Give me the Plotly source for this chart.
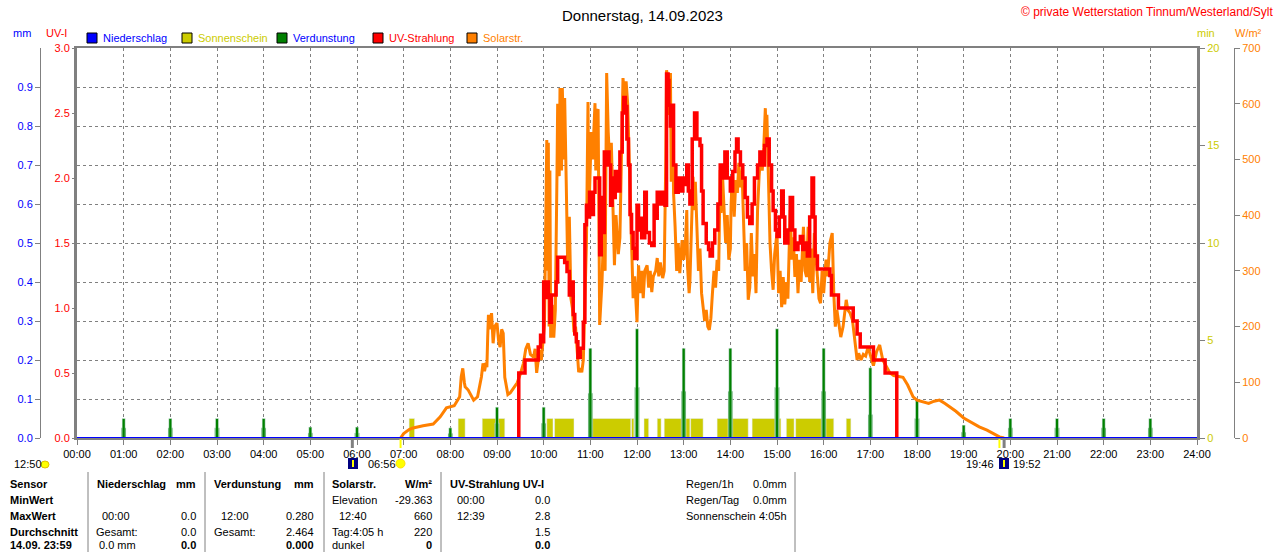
import plotly.graph_objects as go

W, H = 1280, 552

# Solarstrahlung W/m2 (orange)
solar_time = ["06:56", "07:00", "07:07", "07:12", "07:25", "07:38", "07:47", "07:55", "08:05", "08:10",
              "08:12", "08:14", "08:16", "08:18", "08:19", "08:23", "08:27", "08:30", "08:35", "08:40",
              "08:42", "08:44", "08:46", "08:47", "08:48", "08:49", "08:50", "08:51", "08:53", "08:54",
              "08:55", "08:57", "09:00", "09:02", "09:04", "09:06", "09:08", "09:10", "09:12", "09:14",
              "09:17", "09:22", "09:26", "09:30", "09:34", "09:37", "09:40", "09:43", "09:47", "09:49",
              "09:51", "09:53", "09:55", "09:57", "09:59", "10:01", "10:03", "10:04", "10:05", "10:06",
              "10:07", "10:08", "10:09", "10:11", "10:13", "10:15", "10:17", "10:18", "10:20", "10:21",
              "10:23", "10:24", "10:26", "10:27", "10:29", "10:31", "10:33", "10:35", "10:37", "10:39",
              "10:41", "10:43", "10:45", "10:47", "10:49", "10:51", "10:53", "10:55", "10:57", "10:58",
              "11:00", "11:01", "11:03", "11:04", "11:06", "11:07", "11:08", "11:10", "11:12", "11:15",
              "11:17", "11:19", "11:21", "11:23", "11:25", "11:27", "11:29", "11:31", "11:33", "11:36",
              "11:38", "11:40", "11:42", "11:44", "11:46", "11:48", "11:51", "11:53", "11:55", "11:57",
              "12:00", "12:02", "12:04", "12:06", "12:08", "12:10", "12:13", "12:15", "12:17", "12:19",
              "12:21", "12:24", "12:26", "12:28", "12:30", "12:33", "12:35", "12:37", "12:38", "12:40",
              "12:41", "12:43", "12:44", "12:46", "12:47", "12:49", "12:51", "12:53", "12:55", "12:58",
              "13:00", "13:02", "13:04", "13:05", "13:07", "13:08", "13:10", "13:12", "13:14", "13:15",
              "13:17", "13:19", "13:21", "13:23", "13:25", "13:27", "13:29", "13:31", "13:33", "13:35",
              "13:37", "13:39", "13:41", "13:43", "13:45", "13:47", "13:48", "13:50", "13:52", "13:54",
              "13:56", "13:58", "14:00", "14:01", "14:03", "14:05", "14:07", "14:09", "14:11", "14:13",
              "14:15", "14:17", "14:19", "14:21", "14:23", "14:25", "14:27", "14:29", "14:31", "14:33",
              "14:35", "14:37", "14:39", "14:41", "14:43", "14:45", "14:46", "14:47", "14:49", "14:51",
              "14:53", "14:55", "14:57", "15:00", "15:02", "15:04", "15:06", "15:08", "15:10", "15:12",
              "15:14", "15:17", "15:19", "15:21", "15:23", "15:25", "15:27", "15:29", "15:31", "15:34",
              "15:36", "15:38", "15:40", "15:42", "15:44", "15:46", "15:48", "15:50", "15:52", "15:54",
              "15:56", "15:58", "16:00", "16:03", "16:05", "16:08", "16:11", "16:13", "16:15", "16:17",
              "16:19", "16:22", "16:25", "16:27", "16:29", "16:31", "16:34", "16:37", "16:40", "16:43",
              "16:45", "16:48", "16:51", "16:54", "16:57", "17:00", "17:04", "17:08", "17:12", "17:16",
              "17:20", "17:25", "17:30", "17:36", "17:42", "17:48", "17:55", "18:00", "18:07", "18:15",
              "18:22", "18:29", "18:36", "18:42", "18:50", "19:00", "19:10", "19:20", "19:30", "19:40",
              "19:46", "19:52"]
solar_wm2 = [0, 8, 15, 18, 22, 25, 38, 54, 58, 70,
             74, 110, 125, 100, 92, 86, 75, 68, 74, 110,
             134, 120, 135, 127, 180, 221, 195, 210, 224, 175,
             170, 200, 206, 175, 163, 195, 188, 109, 95, 78,
             81, 90, 99, 115, 134, 160, 170, 150, 145, 160,
             117, 140, 158, 140, 176, 203, 420, 535, 300, 530,
             200, 480, 180, 239, 180, 230, 460, 600, 470, 628,
             480, 628, 500, 610, 460, 300, 397, 251, 233, 190,
             200, 150, 118, 125, 118, 140, 251, 350, 603, 400,
             490, 549, 500, 549, 601, 480, 585, 590, 203, 280,
             370, 300, 655, 549, 490, 530, 430, 310, 400, 330,
             359, 500, 646, 610, 640, 600, 430, 310, 251, 290,
             208, 310, 260, 300, 251, 300, 310, 270, 300, 262,
             290, 300, 323, 290, 315, 287, 300, 500, 660, 640,
             580, 655, 460, 558, 440, 379, 300, 350, 296, 355,
             320, 340, 409, 307, 260, 280, 380, 469, 409, 460,
             379, 300, 340, 260, 235, 210, 230, 200, 194, 215,
             260, 300, 270, 320, 300, 481, 404, 470, 409, 350,
             400, 320, 340, 420, 481, 397, 463, 440, 494, 450,
             480, 379, 300, 350, 248, 270, 368, 290, 330, 260,
             409, 470, 510, 480, 522, 592, 540, 580, 440, 350,
             300, 266, 330, 368, 260, 300, 235, 289, 240, 280,
             250, 409, 320, 360, 289, 330, 260, 320, 280, 379,
             300, 289, 379, 280, 340, 260, 368, 320, 289, 250,
             242, 300, 260, 320, 290, 350, 368, 260, 200, 230,
             212, 181, 200, 220, 248, 230, 224, 212, 170, 140,
             152, 140, 150, 147, 163, 150, 130, 155, 167, 140,
             130, 117, 112, 110, 109, 95, 74, 68, 65, 62,
             66, 68, 62, 56, 48, 36, 28, 20, 14, 6,
             2, 0]

# UV-Strahlung UV-I (red, step line)
uv_time = ["09:27", "09:28", "09:36", "09:53", "09:56", "09:58", "10:00", "10:02", "10:04", "10:06",
           "10:08", "10:10", "10:13", "10:16", "10:18", "10:27", "10:30", "10:33", "10:36", "10:38",
           "10:40", "10:42", "10:44", "10:47", "10:51", "10:53", "10:55", "10:57", "10:59", "11:02",
           "11:04", "11:06", "11:10", "11:12", "11:14", "11:16", "11:18", "11:20", "11:22", "11:24",
           "11:26", "11:28", "11:30", "11:32", "11:35", "11:38", "11:41", "11:43", "11:45", "11:47",
           "11:49", "11:51", "11:53", "11:55", "11:57", "12:00", "12:02", "12:04", "12:06", "12:10",
           "12:12", "12:16", "12:19", "12:22", "12:24", "12:26", "12:30", "12:33", "12:36", "12:38",
           "12:40", "12:41", "12:43", "12:45", "12:47", "12:50", "12:53", "12:55", "12:59", "13:02",
           "13:04", "13:06", "13:08", "13:11", "13:14", "13:17", "13:21", "13:23", "13:25", "13:29",
           "13:32", "13:34", "13:37", "13:40", "13:44", "13:47", "13:50", "13:53", "13:56", "14:00",
           "14:03", "14:06", "14:08", "14:10", "14:13", "14:16", "14:19", "14:22", "14:25", "14:28",
           "14:31", "14:35", "14:38", "14:41", "14:44", "14:47", "14:50", "14:53", "14:55", "14:58",
           "15:00", "15:03", "15:06", "15:08", "15:10", "15:14", "15:17", "15:20", "15:23", "15:27",
           "15:30", "15:33", "15:36", "15:39", "15:42", "15:45", "15:47", "15:49", "15:52", "16:08",
           "16:10", "16:14", "16:19", "16:38", "16:43", "16:47", "17:04", "17:19", "17:33", "17:34"]
uv_index = [0.0, 0.5, 0.6, 0.7, 0.79, 0.74, 1.2, 1.08, 1.2, 1.1,
            0.89, 1.1, 1.1, 1.2, 1.39, 1.35, 1.28, 1.1, 1.2, 0.95,
            0.8, 0.74, 0.62, 0.69, 0.89, 1.64, 1.79, 1.7, 1.89, 1.72,
            1.89, 2.0, 2.0, 1.41, 1.85, 1.58, 2.2, 2.1, 2.2, 2.1,
            1.79, 2.0, 1.85, 2.05, 1.9, 2.2, 2.5, 2.62, 2.55, 2.3,
            2.1, 1.72, 1.58, 1.46, 1.38, 1.79, 1.6, 1.69, 1.54, 1.89,
            1.58, 1.5, 1.48, 1.79, 1.69, 1.89, 1.8, 1.89, 1.79, 2.8,
            2.75, 2.56, 2.4, 2.56, 2.1, 1.89, 2.0, 1.9, 2.0, 1.95,
            2.1, 1.9, 1.8, 2.3, 2.5, 2.3, 2.25, 1.9, 1.65, 1.5,
            1.45, 1.4, 1.5, 1.6, 1.8, 2.1, 2.0, 2.2, 2.0, 1.9,
            2.05, 2.2, 2.3, 2.2, 2.1, 2.0, 1.85, 1.7, 1.65, 1.8,
            2.0, 2.1, 2.2, 2.1, 2.25, 2.3, 2.1, 1.9, 1.75, 1.6,
            1.55, 1.7, 1.9, 1.7, 1.5, 1.6, 1.85, 1.6, 1.45, 1.5,
            1.55, 1.45, 1.5, 1.4, 1.7, 2.0, 1.7, 1.4, 1.3, 1.25,
            1.1, 1.1, 1.0, 0.9, 0.8, 0.7, 0.6, 0.5, 0.5, 0.0]

# Sonnenschein (min), sunny periods
sun_start = ["07:07", "08:10", "08:41", "10:04", "10:14", "10:58", "11:53", "12:09", "12:26", "12:35",
             "13:09", "13:43", "14:28", "15:12", "15:24", "16:29"]
sun_end = ["07:14", "08:19", "09:10", "10:12", "10:39", "11:52", "11:56", "12:15", "12:31", "13:08",
           "13:25", "14:23", "15:05", "15:22", "16:13", "16:35"]
sun_min = [1, 1, 1, 1, 1, 1, 1, 1, 1, 1, 1, 1, 1, 1, 1, 1]

# Verdunstung mm, hourly spikes
evap_time = ["01:00", "02:00", "03:00", "04:00", "05:00", "06:00", "07:00", "08:00", "09:00", "10:00",
             "11:00", "12:00", "13:00", "14:00", "15:00", "16:00", "17:00", "18:00", "19:00", "20:00",
             "21:00", "22:00", "23:00"]
evap_peak = [0.05, 0.05, 0.05, 0.05, 0.028, 0.028, 0.0, 0.026, 0.079, 0.079,
             0.23, 0.28, 0.23, 0.23, 0.28, 0.23, 0.18, 0.10, 0.033, 0.05,
             0.05, 0.05, 0.05]
evap_base = [0.026, 0.026, 0.026, 0.026, 0.013, 0.013, 0.0, 0.012, 0.038, 0.038,
             0.115, 0.13, 0.12, 0.12, 0.13, 0.12, 0.06, 0.05, 0.015, 0.026,
             0.026, 0.026, 0.026]

# Niederschlag mm
rain_time = ["00:00", "24:00"]
rain_mm = [0.0, 0.0]

hour_labels = ["00:00", "01:00", "02:00", "03:00", "04:00", "05:00", "06:00", "07:00", "08:00",
               "09:00", "10:00", "11:00", "12:00", "13:00", "14:00", "15:00", "16:00", "17:00",
               "18:00", "19:00", "20:00", "21:00", "22:00", "23:00", "24:00"]

# sunrise / sunset markers below the axis
mark_time = ["05:54", "06:56", "19:46", "19:52"]
mark_color = ["#808080", "#ffff00", "#ffff00", "#808080"]

BLUE = "#0000ff"
YEL = "#cccc00"
GREEN = "#008000"
RED = "#ff0000"
ORANGE = "#ff8000"
GRAY = "#808080"
FONT = "Liberation Sans"


def hrs(t):
    h, m = t.split(":")
    return int(h) + int(m) / 60.0


def px(x):
    return x / W


def py(y):
    return 1 - y / H


fig = go.Figure()

sx = [(hrs(a) + hrs(b)) / 2 for a, b in zip(sun_start, sun_end)]
sw = [hrs(b) - hrs(a) for a, b in zip(sun_start, sun_end)]
fig.add_trace(go.Bar(x=sx, y=sun_min, width=sw, marker_color=YEL, yaxis="y", name="Sonnenschein"))

ex = [hrs(t) for t in evap_time]
fig.add_trace(go.Bar(x=ex, y=evap_base, width=0.1, marker_color=GREEN, yaxis="y2", name="Verdunstung"))
fig.add_trace(go.Bar(x=ex, y=evap_peak, width=0.065, marker_color=GREEN, yaxis="y2", name="Verdunstung"))

fig.add_trace(go.Scatter(x=[hrs(t) for t in solar_time], y=solar_wm2, mode="lines",
                         line=dict(color=ORANGE, width=3), yaxis="y3", name="Solarstr."))
fig.add_trace(go.Scatter(x=[hrs(t) for t in uv_time], y=uv_index, mode="lines",
                         line=dict(color=RED, width=3.5, shape="hv"), yaxis="y4", name="UV-Strahlung"))
fig.add_trace(go.Scatter(x=[hrs(t) for t in rain_time], y=rain_mm, mode="lines", cliponaxis=False,
                         line=dict(color=BLUE, width=2), yaxis="y5", name="Niederschlag"))

ydom = [py(438), py(48)]
tf = dict(family=FONT, size=11)

fig.update_layout(
    width=W, height=H, margin=dict(l=0, r=0, t=0, b=0),
    paper_bgcolor="white", plot_bgcolor="white",
    showlegend=False, barmode="overlay",
    font=dict(family=FONT, size=11, color="black"),
    xaxis=dict(domain=[px(77), px(1197)], range=[0, 24], tickvals=list(range(25)), ticktext=hour_labels,
               showgrid=True, gridcolor=GRAY, griddash="3px,3px", gridwidth=1,
               showline=True, linecolor=GRAY, linewidth=2, mirror=True, layer="below traces",
               ticks="outside", ticklen=5, tickcolor=GRAY, tickfont=dict(tf, color="black"),
               zeroline=False, automargin=False),
    yaxis=dict(domain=ydom, range=[0, 20], side="right", tickvals=[0, 5, 10, 15, 20],
               tickfont=dict(tf, color=YEL), ticks="outside", ticklen=5, tickcolor=GRAY,
               showline=True, mirror=True, linecolor=GRAY, linewidth=3, layer="below traces",
               showgrid=False, zeroline=False, automargin=False),
    yaxis2=dict(overlaying="y", anchor="free", position=px(40), side="left", range=[0, 1],
                tickvals=[0, 0.1, 0.2, 0.3, 0.4, 0.5, 0.6, 0.7, 0.8, 0.9], tickformat=".1f",
                tickfont=dict(tf, color=BLUE), ticks="outside", ticklen=5, tickcolor=GRAY,
                showline=True, linecolor=GRAY, linewidth=1,
                showgrid=True, gridcolor=GRAY, griddash="3px,3px", gridwidth=1,
                zeroline=False, automargin=False),
    yaxis3=dict(overlaying="y", anchor="free", position=px(1234), side="right", range=[0, 700],
                dtick=100, tickfont=dict(tf, color=ORANGE), ticks="outside", ticklen=5, tickcolor=GRAY,
                showline=True, linecolor=GRAY, linewidth=1, showgrid=False, zeroline=False,
                automargin=False),
    yaxis4=dict(overlaying="y", anchor="x", side="left", range=[0, 3],
                tickvals=[0, 0.5, 1, 1.5, 2, 2.5, 3], tickformat=".1f",
                tickfont=dict(tf, color=RED), ticks="outside", ticklen=4, tickcolor=GRAY,
                showline=False, showgrid=False, zeroline=False, automargin=False),
    yaxis5=dict(overlaying="y", range=[0, 1], visible=False),
)

ann = []
shapes = []


def txt(x, y, s, color="black", anchor="left", size=11, bold=False):
    if bold:
        s = "<b>" + s + "</b>"
    ann.append(dict(x=px(x), y=py(y), xref="paper", yref="paper", text=s, showarrow=False,
                    xanchor=anchor, yanchor="middle", font=dict(family=FONT, size=size, color=color)))


txt(642, 15, "Donnerstag, 14.09.2023", anchor="center", size=15)
txt(1276, 12, "© private Wetterstation Tinnum/Westerland/Sylt", color=RED, anchor="right", size=12)
txt(22, 33, "mm", BLUE, "center")
txt(56, 33, "UV-I", RED, "center")
txt(1206, 33, "min", YEL, "center")
txt(1248, 33, "W/m²", ORANGE, "center")

legend = [(87, BLUE, "Niederschlag", BLUE), (182, YEL, "Sonnenschein", YEL),
          (277, GREEN, "Verdunstung", BLUE), (373, RED, "UV-Strahlung", RED),
          (467, ORANGE, "Solarstr.", ORANGE)]
for x0, c, name, tc in legend:
    shapes.append(dict(type="rect", xref="paper", yref="paper", x0=px(x0), x1=px(x0 + 10),
                       y0=py(43), y1=py(33), fillcolor=c, line=dict(color="black", width=1)))
    txt(x0 + 14, 38, name, tc)

# markers under the time axis
for t, c in zip(mark_time, mark_color):
    shapes.append(dict(type="line", xref="x", yref="paper", x0=hrs(t), x1=hrs(t), y0=py(439), y1=py(448),
                       line=dict(color=c, width=3 if c == GRAY else 2)))

txt(12, 464, "12:50")
shapes.append(dict(type="circle", xref="paper", yref="paper", x0=px(41), x1=px(49), y0=py(468), y1=py(461),
                   fillcolor="#ffff00", line=dict(color="#e0c000", width=1)))
for x0 in [348, 999]:
    shapes.append(dict(type="rect", xref="paper", yref="paper", x0=px(x0), x1=px(x0 + 10),
                       y0=py(469), y1=py(458), fillcolor="#000080", line=dict(width=0)))
    shapes.append(dict(type="line", xref="paper", yref="paper", x0=px(x0 + 5), x1=px(x0 + 5),
                       y0=py(467), y1=py(460), line=dict(color="#ffff00", width=2)))
txt(366, 464, "06:56")
shapes.append(dict(type="circle", xref="paper", yref="paper", x0=px(396), x1=px(405), y0=py(468), y1=py(459),
                   fillcolor="#ffff00", line=dict(color="#ffe000", width=1)))
txt(996, 464, "19:46", anchor="right")
txt(1011, 464, "19:52")

# statistics table
for xs in [88, 205, 324, 441, 795]:
    shapes.append(dict(type="line", xref="paper", yref="paper", x0=px(xs), x1=px(xs), y0=py(472), y1=py(552),
                       line=dict(color=GRAY, width=1)))

rows = [484, 500, 516, 532, 545]
for y, s in zip(rows, ["Sensor", "MinWert", "MaxWert", "Durchschnitt", "14.09. 23:59"]):
    txt(8, y, s, bold=True)

txt(95, 484, "Niederschlag", bold=True)
txt(198, 484, "mm", anchor="right", bold=True)
txt(212, 484, "Verdunstung", bold=True)
txt(316, 484, "mm", anchor="right", bold=True)
txt(330, 484, "Solarstr.", bold=True)
txt(434, 484, "W/m²", anchor="right", bold=True)
txt(448, 484, "UV-Strahlung UV-I", bold=True)

txt(330, 500, "Elevation")
txt(434, 500, "-29.363", anchor="right")
txt(455, 500, "00:00")
txt(552, 500, "0.0", anchor="right")

txt(100, 516, "00:00")
txt(198, 516, "0.0", anchor="right")
txt(219, 516, "12:00")
txt(316, 516, "0.280", anchor="right")
txt(337, 516, "12:40")
txt(434, 516, "660", anchor="right")
txt(455, 516, "12:39")
txt(552, 516, "2.8", anchor="right")

txt(94, 532, "Gesamt:")
txt(198, 532, "0.0", anchor="right")
txt(212, 532, "Gesamt:")
txt(316, 532, "2.464", anchor="right")
txt(330, 532, "Tag:4:05 h")
txt(434, 532, "220", anchor="right")
txt(552, 532, "1.5", anchor="right")

txt(97, 545, "0.0 mm")
txt(198, 545, "0.0", anchor="right", bold=True)
txt(316, 545, "0.000", anchor="right", bold=True)
txt(330, 545, "dunkel")
txt(434, 545, "0", anchor="right", bold=True)
txt(552, 545, "0.0", anchor="right", bold=True)

for y, a, b in [(484, "Regen/1h", "0.0mm"), (500, "Regen/Tag", "0.0mm"), (516, "Sonnenschein", "4:05h")]:
    txt(684, y, a)
    txt(789, y, b, anchor="right")

fig.update_layout(annotations=ann, shapes=shapes)
# the page body has a default 8px margin; remove it so the figure sits at the window corner
fig.write_html("out.html", config={"displayModeBar": False},
               post_script="document.body.style.margin='0';")
